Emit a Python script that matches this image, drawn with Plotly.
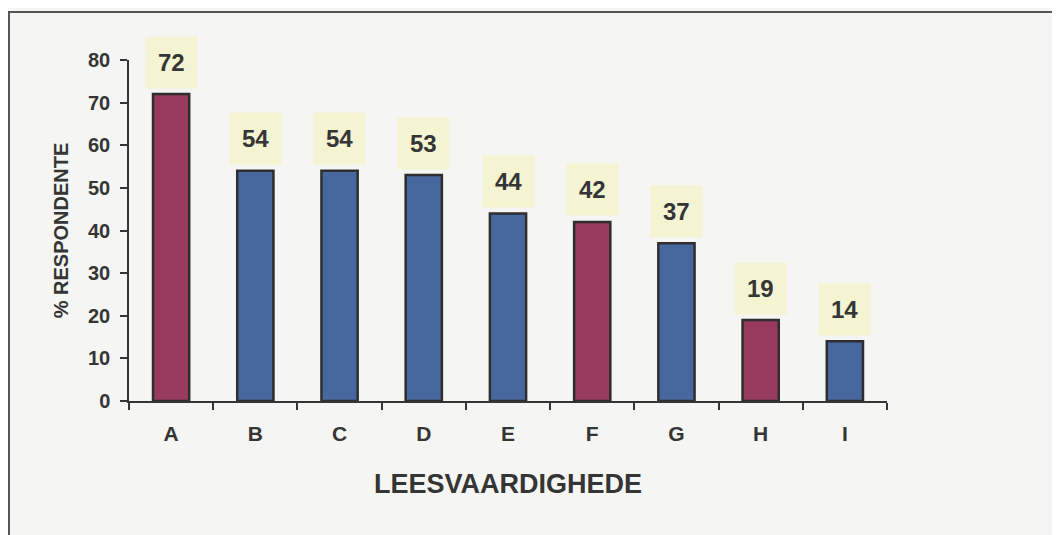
import plotly.graph_objects as go

# data
categories = ["A", "B", "C", "D", "E", "F", "G", "H", "I"]
values = [72, 54, 54, 53, 44, 42, 37, 19, 14]
highlighted = [True, False, False, False, False, True, False, True, False]
y_ticks = [0, 10, 20, 30, 40, 50, 60, 70, 80]

MAROON = "#983a5c"
BLUE = "#47679f"
INK = "#353535"
PAPER = "#f5f5f3"
LABEL_BG = "#f4f3d2"
FONT = "Liberation Sans, Arial"

# the page adds an 8px body margin, so the figure sits at (8, 8)
OFF = 8
W, H = 1060 - OFF, 535 - OFF
L, R, T, B = 129 - OFF, 1060 - 887, 60 - OFF, 535 - 401

colors = [MAROON if h else BLUE for h in highlighted]

fig = go.Figure(go.Bar(
    x=categories, y=values,
    marker=dict(color=colors, line=dict(color="#2e2e2e", width=2.5)),
    width=0.43,
))

for c, v in zip(categories, values):
    fig.add_annotation(
        x=c, y=v, yref="y", yshift=32, showarrow=False,
        text=f"<b>{v}</b>",
        font=dict(family=FONT, size=24, color=INK),
        bgcolor=LABEL_BG, borderpad=12,
    )

pw = W - L - R
ph = H - T - B
# outer frame (only top and left edges visible in the reference)
fig.add_shape(
    type="rect", xref="paper", yref="paper",
    x0=(1 - L) / pw, x1=(W + 20 - L) / pw,
    y0=-(B + 20) / ph, y1=(H - 4 - B) / ph,
    line=dict(color="#555555", width=2), layer="below",
)

fig.update_layout(
    width=W, height=H,
    margin=dict(l=L, r=R, t=T, b=B),
    paper_bgcolor=PAPER, plot_bgcolor=PAPER,
    showlegend=False,
    font=dict(family=FONT, color=INK),
    xaxis=dict(
        showgrid=False, showline=True, linecolor=INK, linewidth=1.5,
        ticks="outside", tickson="boundaries", ticklen=7, tickcolor=INK, tickwidth=1.5,
        tickfont=dict(size=21, color=INK, weight="bold"), ticklabelstandoff=13,
        title=dict(text="LEESVAARDIGHEDE", font=dict(size=27, weight="bold"), standoff=30),
    ),
    yaxis=dict(
        range=[0, 80], tickvals=y_ticks, showgrid=False, zeroline=False,
        showline=True, linecolor=INK, linewidth=1.5,
        ticks="outside", ticklen=7, tickcolor=INK, tickwidth=1.5,
        tickfont=dict(size=20, color=INK, weight="bold"), ticklabelstandoff=6,
        title=dict(text="% RESPONDENTE", font=dict(size=20, weight="bold"), standoff=14),
    ),
)

fig.write_html("out.html")
